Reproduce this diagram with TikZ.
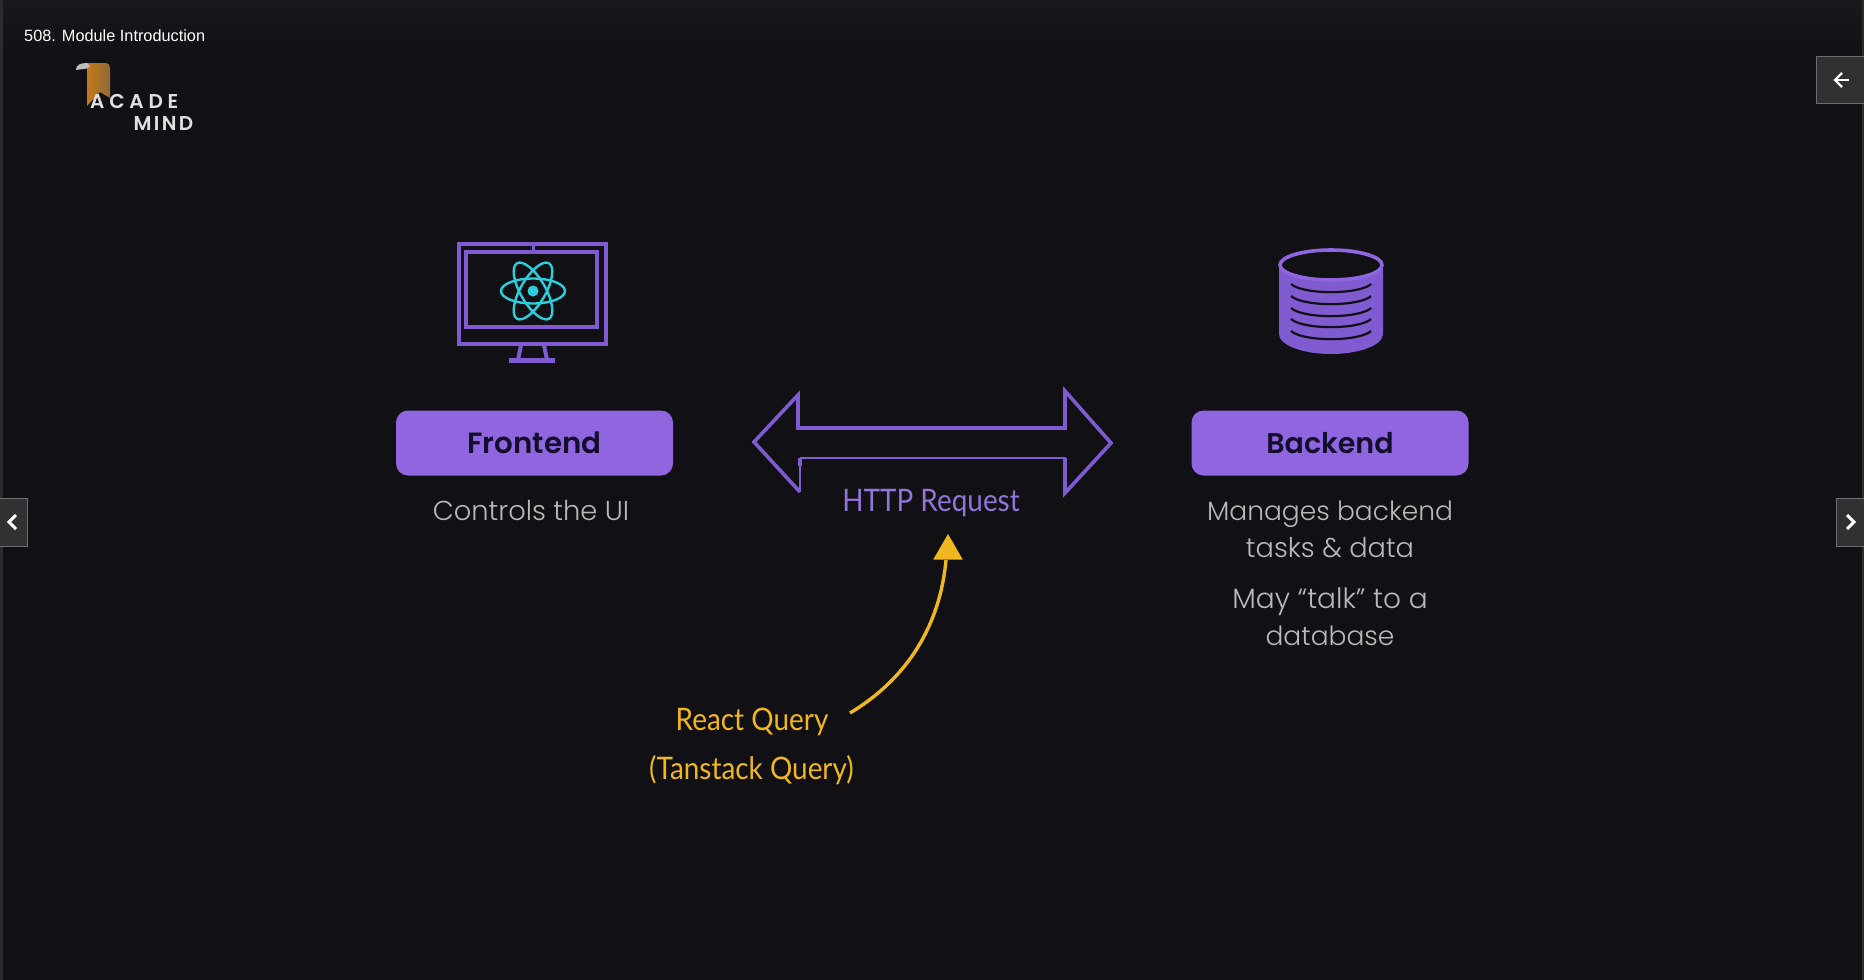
\documentclass[tikz,border=0pt]{standalone}
\usepackage{fontspec}
\setmainfont{Liberation Sans}
\newfontfamily\bodyfont{Poppins Light}
\newfontfamily\headfont{Poppins SemiBold}
\newfontfamily\handfont[FakeStretch=0.9]{Lato}
\newfontfamily\logofont[LetterSpace=12]{Poppins SemiBold}
\newfontfamily\logowide[LetterSpace=24]{Poppins SemiBold}
\usetikzlibrary{shapes.geometric}
\definecolor{bg}{HTML}{111015}
\definecolor{bgtop}{HTML}{17191C}
\definecolor{violet}{HTML}{8F66E0}
\definecolor{linev}{HTML}{7F5AD0}
\definecolor{ink}{HTML}{130E2B}
\definecolor{graytext}{HTML}{B9B9B9}
\definecolor{amber}{HTML}{F1B71F}
\definecolor{cyanatom}{HTML}{2BCFDC}
\definecolor{btnfill}{HTML}{2F3133}
\definecolor{btnline}{HTML}{6C6F71}
\definecolor{strip}{HTML}{2A2C2E}
\definecolor{orangelogo}{HTML}{C47A18}
\definecolor{orangelight}{HTML}{8F6A3A}
\tikzset{
  boxnode/.style={draw=none,fill=violet,rounded corners=12pt,minimum width=277pt,minimum height=65pt,inner sep=0pt,text=ink,font=\headfont\fontsize{28.5}{32}\selectfont},
  bodytext/.style={text=graytext,align=center,inner sep=0pt,font=\bodyfont\fontsize{26.5}{36.5}\selectfont},
  handv/.style={text=linev!85!white,inner sep=0pt,font=\handfont\fontsize{31}{37}\selectfont},
  handy/.style={text=amber,inner sep=0pt,font=\handfont\fontsize{31}{37}\selectfont},
  navbtn/.style={fill=btnfill,draw=btnline,line width=1pt},
  navglyph/.style={draw=white,line width=2.4pt,line cap=butt},
  sketch/.style={draw=linev,line width=3.6pt,line join=miter},
  logotext/.style={text=white!88!black,inner sep=0pt,font=\logofont\fontsize{20}{24}\selectfont},
}
\begin{document}
\begin{tikzpicture}[x=1pt,y=-1pt]
\useasboundingbox (0,0) rectangle (1864,980);
\fill[bg] (0,0) rectangle (1864,980);
\shade[top color=bgtop,bottom color=bg] (0,0) rectangle (1864,60);
\fill[strip] (0,0) rectangle (3,980);
\fill[strip] (1862,0) rectangle (1864,980);

% title
\node[anchor=base west,text=white,inner sep=0pt,font=\fontsize{16.3}{18}\selectfont] (title) at (24,41) {508. Module Introduction};

% logo
\shade[left color=orangelogo,right color=orangelight] (87,63) -- (106,63) .. controls (109,63) and (110,65) .. (110,68) -- (110,98) -- (100,92) -- (87,106) -- cycle;
\fill[white!75!black] (76,70) .. controls (76,65) and (80,63) .. (87,63) -- (90,66) -- (87,68.5) -- cycle;
\node[logotext,font=\logowide\fontsize{20}{24}\selectfont,anchor=base west] (acade) at (90,108) {ACADE};
\node[logotext,anchor=base east] (mind) at (193.5,130) {MIND};

% monitor
\draw[sketch,line width=4pt] (459,244) rectangle (606,344);
\draw[sketch,line width=4pt] (466,252) rectangle (597,327);
\draw[sketch,line width=4pt] (521,345) -- (518,360);
\draw[sketch,line width=4pt] (544,345) -- (547,360);
\draw[sketch,line width=5pt] (509,360) -- (555,360);
\draw[sketch,line width=3pt] (533,243) -- (533,251);
% atom
\foreach \ang in {0,60,120}
  \draw[cyanatom,line width=2.4pt,rotate around={\ang:(533,291)}] (533,291) ellipse [x radius=32,y radius=12.5];
\fill[cyanatom] (533,291) circle (5.5);

% database
\fill[linev] (1279,268) -- (1279,334) arc[start angle=180,end angle=0,x radius=52,y radius=20] -- (1383,268) -- cycle;
\fill[bg] (1331,265) ellipse [x radius=51,y radius=15];
\draw[violet,line width=3.6pt] (1331,265) ellipse [x radius=51,y radius=15];
\foreach \yy in {293,305,317,328,340}
  \draw[bg,line width=2.2pt] (1291,\yy-9) arc[start angle=165,end angle=15,x radius=41.4,y radius=11];

% boxes
\node[boxnode,font=\headfont\fontsize{29.3}{32}\selectfont] (frontend) at (534.5,443) {Frontend};
\node[boxnode] (backend) at (1330,443) {Backend};
\node[bodytext,font=\bodyfont\fontsize{27.3}{36.5}\selectfont] (ctrl) at (531,511) {Controls the UI};
\node[bodytext] (manages) at (1330,529.5) {Manages backend\\{\fontsize{27.2}{36.5}\selectfont tasks \& data}};
\node[bodytext] (talk) at (1330,616.5) {{\fontsize{28}{36.5}\selectfont May “talk” to a}\\database};

% double arrow
\draw[sketch] (800,458) -- (800,466);
\draw[sketch,line width=2pt] (800,466) -- (800,492);
\draw[sketch] (800,492) -- (754,442) -- (798,395) -- (798,428) -- (1065,428) -- (1065,391) -- (1111,443) -- (1065,493) -- (1065,458);
\draw[sketch,line width=2.8pt] (1066,458) -- (800,458);
\node[handv] (http) at (931,503) {HTTP Request};

% react query
\node[handy] (rq) at (752,722) {React Query};
\node[handy] (tq) at (751.5,770) {(Tanstack Query)};
\coordinate (arrowstart) at (850,713);
\coordinate (arrowneck) at (946,560);
\node[fill=amber,regular polygon,regular polygon sides=3,minimum size=34pt,inner sep=0pt] (arrowhead) at (948,551) {};
\draw[amber,line width=3.4pt] (arrowstart) .. controls (908,678) and (940,625) .. (arrowneck);

% nav buttons
\draw[navbtn] (1864.5,56.5) -- (1816.5,56.5) -- (1816.5,103.5) -- (1864.5,103.5);
\draw[navbtn] (-1,498.5) -- (27.5,498.5) -- (27.5,546) -- (-1,546);
\draw[navbtn] (1865,498.5) -- (1836.5,498.5) -- (1836.5,546) -- (1865,546);
\draw[navglyph] (1849,80) -- (1834,80);
\draw[navglyph] (1842,73) -- (1835,80) -- (1842,87);
\draw[navglyph,line width=3pt] (16,515) -- (9,522) -- (16,529);
\draw[navglyph,line width=3pt] (1847,515) -- (1854,522) -- (1847,529);
\end{tikzpicture}
\end{document}
